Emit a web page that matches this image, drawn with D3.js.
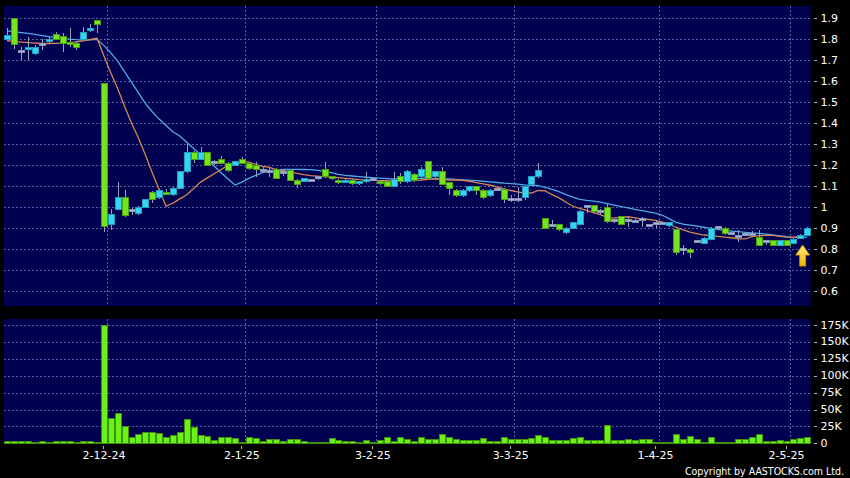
<!DOCTYPE html>
<html><head><meta charset="utf-8">
<script src="https://cdn.jsdelivr.net/npm/d3@7"></script>
<style>html,body{margin:0;padding:0;background:#000;}svg{display:block}</style>
</head><body><svg id="c" width="850" height="478"></svg>
<script>
const dates = [
"12-11-24","13-11-24","14-11-24","15-11-24","18-11-24","19-11-24","20-11-24","21-11-24","22-11-24","25-11-24","26-11-24","27-11-24","28-11-24","29-11-24",
"2-12-24","3-12-24","4-12-24","5-12-24","6-12-24","9-12-24","10-12-24","11-12-24","12-12-24","13-12-24","16-12-24","17-12-24","18-12-24","19-12-24","20-12-24","23-12-24","24-12-24","27-12-24","30-12-24","31-12-24",
"2-1-25","3-1-25","6-1-25","7-1-25","8-1-25","9-1-25","10-1-25","13-1-25","14-1-25","15-1-25","16-1-25","17-1-25","20-1-25","21-1-25","22-1-25","23-1-25","24-1-25","27-1-25","28-1-25",
"3-2-25","4-2-25","5-2-25","6-2-25","7-2-25","10-2-25","11-2-25","12-2-25","13-2-25","14-2-25","17-2-25","18-2-25","19-2-25","20-2-25","21-2-25","24-2-25","25-2-25","26-2-25","27-2-25","28-2-25",
"3-3-25","4-3-25","5-3-25","6-3-25","7-3-25","10-3-25","11-3-25","12-3-25","13-3-25","14-3-25","17-3-25","18-3-25","19-3-25","20-3-25","21-3-25","24-3-25","25-3-25","26-3-25","27-3-25","28-3-25","31-3-25",
"1-4-25","2-4-25","3-4-25","7-4-25","8-4-25","9-4-25","10-4-25","11-4-25","14-4-25","15-4-25","16-4-25","17-4-25","22-4-25","23-4-25","24-4-25","25-4-25","28-4-25","29-4-25","30-4-25",
"2-5-25","6-5-25","7-5-25","8-5-25"];

const open = [1.80,1.90,1.74,1.752,1.733,1.775,1.79,1.824,1.812,1.785,1.781,1.80,1.843,1.889,
1.59,0.919,0.99,1.048,0.985,0.971,1.00,1.069,1.048,1.071,1.059,1.09,1.17,1.262,1.229,1.262,1.212,1.228,1.209,1.20,
1.228,1.209,1.20,1.175,1.17,1.18,1.165,1.174,1.13,1.122,1.128,1.14,1.181,1.146,1.13,1.119,1.13,1.111,1.122,
1.133,1.122,1.122,1.101,1.146,1.122,1.157,1.146,1.217,1.146,1.17,1.117,1.079,1.055,1.079,1.098,1.079,1.055,1.086,1.083,
1.038,1.038,1.048,1.109,1.146,0.947,0.911,0.919,0.88,0.90,0.919,1.003,1.008,0.979,0.998,0.935,0.955,0.935,0.934,0.94,0.915,
0.924,0.924,0.911,0.892,0.797,0.80,0.836,0.828,0.847,0.904,0.90,0.875,0.86,0.872,0.872,0.857,0.835,0.84,0.817,
0.84,0.828,0.853,0.865];
const high = [1.852,1.90,1.765,1.81,1.773,1.80,1.81,1.835,1.83,1.852,1.79,1.86,1.872,1.889,
1.59,0.99,1.119,1.082,0.995,1.005,1.04,1.08,1.085,1.085,1.095,1.175,1.30,1.27,1.285,1.265,1.225,1.245,1.215,1.22,
1.238,1.215,1.215,1.19,1.186,1.185,1.18,1.18,1.135,1.14,1.135,1.15,1.217,1.15,1.135,1.135,1.135,1.125,1.17,
1.14,1.13,1.125,1.17,1.165,1.18,1.165,1.194,1.22,1.175,1.194,1.12,1.085,1.085,1.102,1.102,1.085,1.085,1.095,1.09,
1.059,1.098,1.10,1.15,1.213,0.95,0.94,0.922,0.905,0.93,0.985,1.011,1.012,0.99,1.016,0.945,0.96,0.955,0.945,0.955,0.922,
0.94,0.93,0.932,0.895,0.82,0.805,0.845,0.86,0.908,0.912,0.905,0.88,0.892,0.88,0.885,0.892,0.84,0.845,0.845,
0.845,0.852,0.872,0.908];
const low = [1.79,1.752,1.70,1.70,1.725,1.75,1.78,1.797,1.74,1.765,1.75,1.795,1.835,1.83,
0.884,0.89,0.99,0.955,0.965,0.965,0.995,1.02,1.04,1.06,1.055,1.085,1.165,1.21,1.225,1.195,1.20,1.205,1.17,1.195,
1.205,1.178,1.146,1.165,1.146,1.135,1.15,1.125,1.09,1.12,1.12,1.13,1.14,1.13,1.11,1.115,1.105,1.105,1.118,
1.125,1.105,1.095,1.098,1.11,1.115,1.12,1.14,1.135,1.14,1.105,1.059,1.05,1.05,1.075,1.059,1.038,1.05,1.08,1.019,
1.027,1.027,1.035,1.105,1.14,0.895,0.905,0.885,0.875,0.898,0.915,0.971,0.975,0.965,0.925,0.925,0.915,0.908,0.925,0.908,0.91,
0.90,0.915,0.905,0.773,0.773,0.757,0.83,0.825,0.845,0.90,0.87,0.868,0.836,0.865,0.865,0.815,0.82,0.815,0.815,
0.815,0.825,0.85,0.862];
const close = [1.816,1.773,1.74,1.76,1.76,1.775,1.795,1.80,1.78,1.777,1.762,1.833,1.852,1.871,
0.908,0.967,1.048,0.959,0.985,1.00,1.038,1.038,1.082,1.059,1.09,1.17,1.262,1.229,1.262,1.20,1.212,1.209,1.174,1.217,
1.209,1.185,1.18,1.175,1.17,1.138,1.165,1.13,1.11,1.138,1.128,1.14,1.146,1.138,1.119,1.13,1.111,1.122,1.133,
1.133,1.111,1.101,1.133,1.122,1.17,1.13,1.181,1.138,1.17,1.109,1.09,1.055,1.079,1.098,1.079,1.048,1.079,1.086,1.038,
1.038,1.038,1.098,1.149,1.173,0.90,0.911,0.892,0.90,0.927,0.979,1.003,0.979,0.979,0.932,0.935,0.919,0.935,0.934,0.94,0.915,
0.924,0.924,0.928,0.786,0.797,0.786,0.836,0.852,0.90,0.904,0.876,0.875,0.86,0.872,0.872,0.817,0.835,0.817,0.84,
0.817,0.847,0.868,0.90];
const volume = [2000,2000,2000,2000,1500,2000,1000,2000,2000,2000,500,2000,2000,1000,
175000,37000,44500,25200,8400,12400,15800,15800,14300,8400,11900,16300,34600,22700,11400,9900,4400,7900,7900,7400,
1500,7900,6400,2000,5900,4900,2000,5400,4900,3000,1500,1500,1500,6400,3500,2000,2000,1500,3500,
1500,3500,8400,2000,9000,4900,2000,8900,4900,4900,12400,8900,4900,4400,4000,4400,6400,3000,3000,8900,
4900,4900,4900,6400,11400,7900,3500,3500,3500,6400,8400,4400,4400,4000,26700,4400,4000,5900,4000,4900,4900,
1000,1500,1500,12900,4900,10400,5400,1000,7900,1000,1000,1000,5900,5900,7900,12400,2000,2000,3500,
2500,5900,6900,8900];
const ma10 = [1.793,1.79,1.787,1.784,1.782,1.78,1.78,1.781,1.783,1.785,1.788,1.793,1.799,1.805,
1.72,1.64,1.565,1.48,1.40,1.33,1.25,1.165,1.085,1.005,
1.02,1.04,1.06,1.09,1.12,1.14,1.16,1.18,
1.20,1.21,1.22,1.215,
1.205,1.195,1.19,1.18,1.175,1.168,1.162,1.156,1.151,1.148,
1.146,1.144,1.141,1.138,1.135,1.132,1.13,1.128,1.127,1.127,
1.125,1.123,1.125,1.128,1.13,1.133,1.135,1.133,1.13,1.13,
1.128,1.124,1.118,1.112,1.105,1.097,1.088,1.08,1.073,1.067,
1.068,1.08,1.078,1.06,1.045,1.025,1.005,0.995,0.985,0.975,
0.965,0.952,0.948,0.952,0.955,0.95,0.945,0.942,0.938,0.93,
0.918,0.905,0.892,0.882,0.875,0.868,0.865,0.862,0.858,0.855,
0.85,0.85,0.86,0.865,0.866,0.866,0.862,0.858,0.857,0.862,0.868];
const ma20 = [1.84,1.836,1.832,1.828,1.823,1.818,1.813,1.809,1.805,1.801,1.798,1.796,1.797,1.80,
1.77,1.735,1.695,1.645,1.595,1.545,1.495,1.455,1.42,1.39,1.36,1.34,
1.31,1.28,1.253,1.225,1.195,1.165,1.135,1.106,
1.12,1.138,1.152,1.165,1.174,
1.178,1.18,1.181,1.181,1.18,1.179,1.176,1.171,
1.165,1.157,1.152,1.149,1.146,1.143,1.141,1.139,1.137,1.135,1.136,
1.137,1.138,1.138,1.138,1.137,1.136,1.135,1.133,1.131,1.129,1.127,1.124,1.121,1.118,1.115,1.113,1.11,1.107,1.105,1.103,
1.095,1.085,1.075,1.06,1.048,1.038,1.033,1.029,1.025,1.017,1.01,1.003,0.997,0.99,0.984,0.978,0.972,0.962,
0.945,0.928,0.92,0.915,0.91,0.905,0.9,0.895,0.89,0.887,0.884,0.881,0.878,0.876,0.872,0.868,0.864,0.86,0.857,0.857,0.858];
const priceTicks = [0.6,0.7,0.8,0.9,1.0,1.1,1.2,1.3,1.4,1.5,1.6,1.7,1.8,1.9];
const volTicks = [0,25000,50000,75000,100000,125000,150000,175000];
const dateTicks = ["2-12-24","2-1-25","3-2-25","3-3-25","1-4-25","2-5-25"];
const arrowDate = "7-5-25";
const arrowPrice = 0.82;

const svg = d3.select('#c');
const W = 850, H = 478, L = 4, R = 810.7;
const P = {top: 6, bottom: 306}, V = {top: 319, bottom: 444};
const navy = '#000050', gridC = '#56639a';
svg.append('rect').attr('width', W).attr('height', H).attr('fill', '#000');

const x = d3.scaleBand().domain(dates).range([L, R]).padding(0);
const cx = d => x(d) + x.bandwidth() / 2;
const y = d3.scaleLinear().domain([0.6, 1.9]).range([291.3, 18.3]);
const yv = d3.scaleLinear().domain([0, 175000]).range([443.3, 325.3]);

svg.append('rect').attr('x', L).attr('y', P.top).attr('width', R - L).attr('height', P.bottom - P.top).attr('fill', navy);
svg.append('rect').attr('x', L).attr('y', V.top).attr('width', R - L).attr('height', V.bottom - V.top).attr('fill', navy);

const grid = svg.append('g').attr('stroke', gridC).attr('stroke-width', 1).attr('stroke-dasharray', '2,2').attr('shape-rendering', 'crispEdges');
priceTicks.forEach(t => grid.append('line').attr('x1', L).attr('x2', R).attr('y1', Math.round(y(t)) + 0.5).attr('y2', Math.round(y(t)) + 0.5));
volTicks.slice(1).forEach(t => grid.append('line').attr('x1', L).attr('x2', R).attr('y1', Math.round(yv(t)) + 0.5).attr('y2', Math.round(yv(t)) + 0.5));
dateTicks.forEach(d => {
  const gx = Math.round(cx(d) + 3) + 0.5;
  grid.append('line').attr('x1', gx).attr('x2', gx).attr('y1', P.top).attr('y2', P.bottom);
  grid.append('line').attr('x1', gx).attr('x2', gx).attr('y1', V.top).attr('y2', V.bottom);
});

// volume bars
svg.append('g').selectAll('rect').data(dates).join('rect')
  .attr('x', (d) => Math.round(cx(d)) - 2.5)
  .attr('width', 6)
  .attr('y', (d, i) => Math.min(yv(volume[i]), yv(0) - 1))
  .attr('height', (d, i) => Math.max(1, yv(0) - yv(volume[i])))
  .attr('fill', '#6af214').attr('stroke', '#3d8f0c').attr('stroke-width', 1)
  .attr('shape-rendering', 'crispEdges');

// moving averages
const line = arr => d3.line().x((d, i) => cx(dates[i])).y(d => y(d))(arr);
svg.append('path').attr('d', line(ma20)).attr('fill', 'none').attr('stroke', '#4fa9e6').attr('stroke-width', 1.3);
svg.append('path').attr('d', line(ma10)).attr('fill', 'none').attr('stroke', '#d98453').attr('stroke-width', 1.3);

// candles
const cg = svg.append('g').attr('shape-rendering', 'crispEdges');
dates.forEach((d, i) => {
  const c = Math.round(cx(d));
  cg.append('line').attr('x1', c + 0.5).attr('x2', c + 0.5).attr('y1', y(high[i])).attr('y2', y(low[i])).attr('stroke', '#95a2ba').attr('stroke-width', 1);
  const o = open[i], cl = close[i];
  let fill, stroke;
  if (cl > o) { fill = '#35d4f2'; stroke = '#1f9fc0'; }
  else if (cl < o) { fill = '#74e41c'; stroke = '#4a9e10'; }
  else { fill = '#a9b6d2'; stroke = '#8593b4'; }
  const top = y(Math.max(o, cl)), bot = y(Math.min(o, cl));
  const h = Math.max(2, bot - top);
  cg.append('rect').attr('x', c - 2.5).attr('width', 6).attr('y', (top + bot) / 2 - h / 2).attr('height', h)
    .attr('fill', fill).attr('stroke', stroke).attr('stroke-width', 1);
});

// arrow annotation
const ax = cx(arrowDate) + 2.3, ay = y(arrowPrice);
const grad = svg.append('defs').append('linearGradient').attr('id', 'ag').attr('x1', 0).attr('x2', 0).attr('y1', 0).attr('y2', 1);
grad.append('stop').attr('offset', '0%').attr('stop-color', '#ffe97a');
grad.append('stop').attr('offset', '100%').attr('stop-color', '#f2b300');
svg.append('path')
  .attr('d', `M${ax},${ay} L${ax + 7},${ay + 10} L${ax + 3},${ay + 10} L${ax + 3},${ay + 21} L${ax - 3},${ay + 21} L${ax - 3},${ay + 10} L${ax - 7},${ay + 10} Z`)
  .attr('fill', 'url(#ag)').attr('stroke', '#d39a00').attr('stroke-width', 0.8);

// axes
const fontF = '"DejaVu Sans", sans-serif';
const pa = d3.axisRight(y).tickValues(priceTicks).tickSize(3).tickPadding(4).tickFormat(d3.format('~g'));
const ga = svg.append('g').attr('transform', 'translate(813.5,0)').call(pa);
const va = d3.axisRight(yv).tickValues(volTicks).tickSize(3).tickPadding(4).tickFormat(v => v === 0 ? '0' : (v / 1000) + 'K');
const gv = svg.append('g').attr('transform', 'translate(813.5,0)').call(va);
const xa = d3.axisBottom(x).tickValues(dateTicks).tickSize(3).tickPadding(2);
const gx = svg.append('g').attr('transform', 'translate(0,446)').call(xa);
[ga, gv, gx].forEach(g => {
  g.select('.domain').remove();
  g.selectAll('.tick line').attr('stroke', '#aab0c0').attr('shape-rendering', 'crispEdges');
  g.selectAll('.tick text').attr('fill', '#fff').style('font-family', fontF).style('font-size', '11px');
});
ga.selectAll('.tick text').attr('dy', '0.25em');
gv.selectAll('.tick text').attr('dy', '0.25em');

svg.append('text').attr('x', 844).attr('y', 475).attr('text-anchor', 'end')
  .attr('fill', '#fff').style('font-family', '"DejaVu Sans Condensed", "DejaVu Sans", sans-serif').style('font-size', '10.5px')
  .text('Copyright by AASTOCKS.com Ltd.');
</script></body></html>
